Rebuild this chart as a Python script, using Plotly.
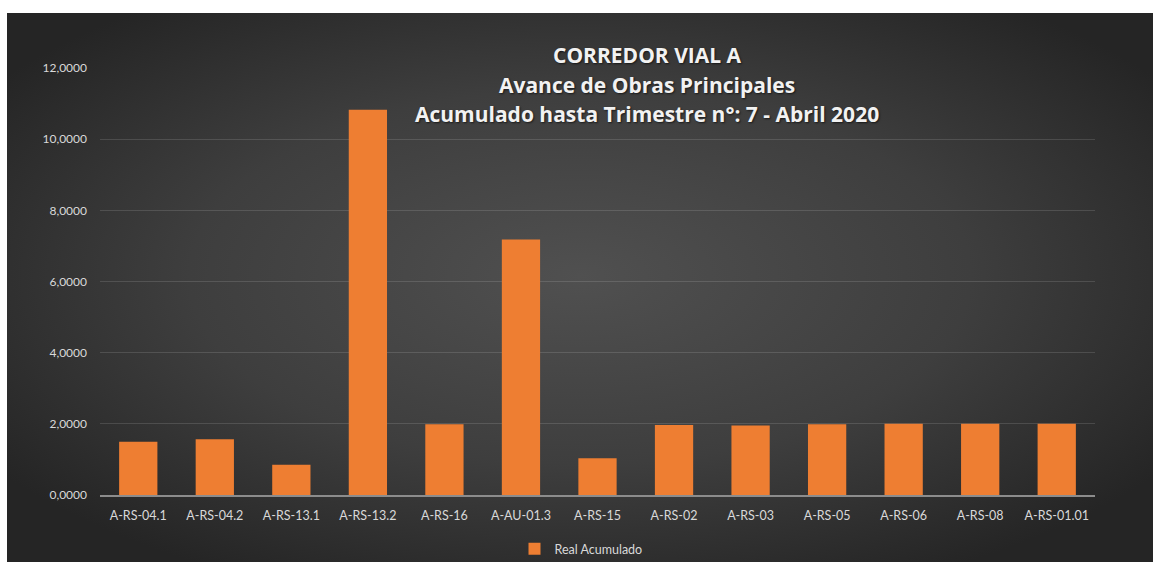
import base64
import plotly.graph_objects as go

categories = ["A-RS-04.1", "A-RS-04.2", "A-RS-13.1", "A-RS-13.2", "A-RS-16", "A-AU-01.3",
              "A-RS-15", "A-RS-02", "A-RS-03", "A-RS-05", "A-RS-06", "A-RS-08", "A-RS-01.01"]
real_acumulado = [1.50, 1.57, 0.85, 10.83, 1.99, 7.18, 1.03, 1.97, 1.95, 1.99, 2.00, 2.00, 2.00]
series_name = "Real Acumulado"
title_lines = ["CORREDOR VIAL A", "Avance de Obras Principales",
               "Acumulado hasta Trimestre n°: 7 - Abril 2020"]
y_ticks = [0, 2, 4, 6, 8, 10, 12]

W, H = 1153, 563
L, R, T, B = 100, 58, 68, 68
pw, ph = W - L - R, H - T - B

def px_x(p):
    return (p - L) / pw

def px_y(p):
    return (H - B - p) / ph

svg = """<svg xmlns='http://www.w3.org/2000/svg' width='1146' height='549' viewBox='0 0 1146 549' preserveAspectRatio='none'>
<defs><radialGradient id='g' cx='0.5' cy='0.48' r='0.62'>
<stop offset='0' stop-color='#505050'/><stop offset='0.55' stop-color='#3e3e3e'/><stop offset='1' stop-color='#252525'/>
</radialGradient></defs><rect width='1146' height='549' fill='url(#g)'/></svg>"""
bg_src = "data:image/svg+xml;base64," + base64.b64encode(svg.encode()).decode()

fig = go.Figure()
fig.add_trace(go.Bar(
    x=categories, y=real_acumulado, name=series_name,
    marker=dict(color="#EE7E32", line=dict(width=0)),
))

x0, x1, y0, y1 = 7, 1153, 13, 562
fig.add_layout_image(dict(
    source=bg_src, xref="paper", yref="paper",
    x=px_x(x0), y=px_y(y0), sizex=(x1 - x0) / pw, sizey=(y1 - y0) / ph,
    xanchor="left", yanchor="top", sizing="stretch", layer="below",
))

title_y = [55, 85, 114]
for txt, py in zip(title_lines, title_y):
    fig.add_annotation(
        text=txt, xref="paper", yref="paper", x=px_x(647), y=px_y(py),
        xanchor="center", yanchor="middle", showarrow=False,
        font=dict(family="Open Sans", size=21, color="#F2F2F2", weight="bold",
                  shadow="1px 1px 2px rgba(0,0,0,0.6)"),
    )

fig.update_layout(
    width=W, height=H,
    margin=dict(l=L, r=R, t=T, b=B, pad=0, autoexpand=False),
    paper_bgcolor="white", plot_bgcolor="rgba(0,0,0,0)",
    separators=",.",
    bargap=0.5,
    showlegend=True,
    legend=dict(orientation="h", x=px_x(581), xanchor="center", y=px_y(549), yanchor="middle",
                font=dict(family="Lato", size=12.5, color="#D9D9D9"), bgcolor="rgba(0,0,0,0)",
                itemwidth=30),
    font=dict(family="Lato", color="#D9D9D9"),
)
fig.update_yaxes(
    range=[0, 12], tickvals=y_ticks, tickformat=".4f",
    showgrid=True, gridcolor="rgba(255,255,255,0.13)", gridwidth=1,
    zeroline=False, showline=False, ticks="", ticklabelstandoff=12,
    tickfont=dict(family="Lato", size=12, color="#D9D9D9"),
)
fig.update_xaxes(
    showgrid=False, showline=True, linecolor="#8C8C8C", linewidth=1.5,
    ticks="", ticklabelstandoff=8,
    tickfont=dict(family="Lato", size=12.5, color="#D9D9D9"),
)

fig.write_html("out.html", config={"displayModeBar": False},
               post_script="document.body.style.margin='0';document.body.style.overflow='hidden';")
